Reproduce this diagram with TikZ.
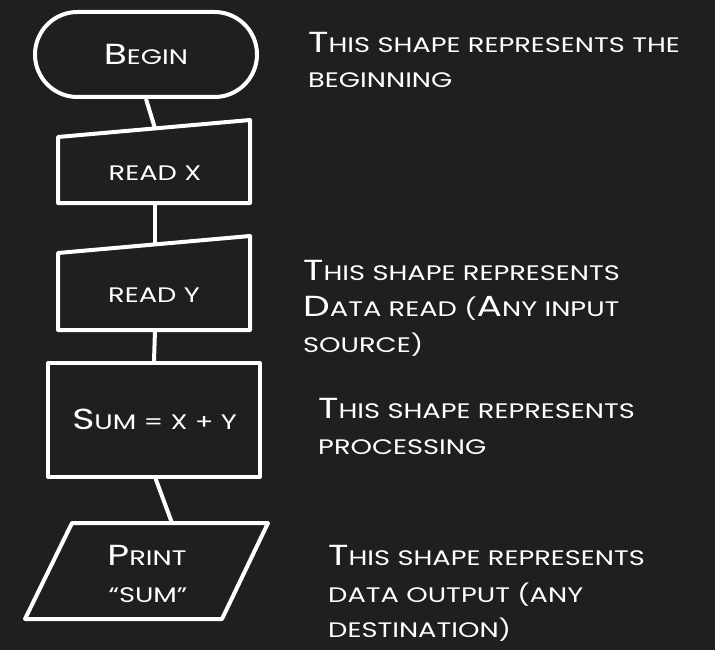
\documentclass[tikz,border=0pt]{standalone}
\usepackage{fontspec}
\usepackage{graphicx}
\setmainfont{Poppins}
\usetikzlibrary{shapes.misc}
\definecolor{board}{HTML}{1F1F1F}
\newcommand\bigc[1]{{\fontsize{29}{29}\selectfont #1}}
\newcommand\wide[1]{\scalebox{1.3}[1]{#1}}
\tikzset{
  shapeline/.style={draw=white, line width=4pt, line join=round},
  conn/.style={draw=white, line width=4pt},
  lbl/.style={text=white, font=\fontsize{21}{21}\selectfont, inner sep=0pt, anchor=base},
  note/.style={text=white, font=\fontsize{21}{21}\selectfont, inner sep=0pt, anchor=base west},
}
\begin{document}
\begin{tikzpicture}[x=1pt,y=-1pt]
\useasboundingbox (0,0) rectangle (715,650);
\fill[board] (0,0) rectangle (715,650);

% Begin
\node[shapeline, rounded rectangle, minimum width=222pt, minimum height=85pt, inner sep=0pt] (begin) at (146,54.5) {};
\node[lbl] (begintxt) at (146,65) {\wide{\bigc{B}EGIN}};

% Read X
\draw[shapeline] (58,137) -- (250,120) -- (250,203) -- (58,203) -- cycle;
\coordinate (rxTop) at (155,128.4);
\coordinate (rxBot) at (155,203);
\node[lbl] (rxtxt) at (155,180) {\wide{READ X}};

% Read Y
\draw[shapeline] (58,253) -- (250,236) -- (250,330) -- (58,330) -- cycle;
\coordinate (ryTop) at (155,244.4);
\coordinate (ryBot) at (155,330);
\node[lbl] (rytxt) at (154,302) {\wide{READ Y}};

% Sum
\node[shapeline, rectangle, minimum width=212pt, minimum height=114pt, inner sep=0pt] (sum) at (154,420) {};
\node[lbl] (sumtxt) at (154.5,429) {\wide{\bigc{S}UM = X + Y}};
\coordinate (sumBot) at (155,477);

% Print
\draw[shapeline] (72,523) -- (268,523) -- (222,619) -- (25,619) -- cycle;
\coordinate (prTop) at (172,523);
\node[lbl] (prtxt1) at (147,565) {\wide{\bigc{P}RINT}};
\node[lbl] (prtxt2) at (148,602) {\wide{“SUM”}};

% connectors
\draw[conn] (begin.south) -- (rxTop);
\draw[conn] (rxBot) -- (ryTop);
\draw[conn] (ryBot) -- (sum.north);
\draw[conn] (sumBot) -- (prTop);

% notes
\node[note] (n1a) at (308,53) {\wide{\bigc{T}HIS SHAPE REPRESENTS THE}};
\node[note] (n1b) at (308,88) {\wide{BEGINNING}};

\node[note] (n2a) at (303,280) {\wide{\bigc{T}HIS SHAPE REPRESENTS}};
\node[note] (n2b) at (303,316) {\wide{\bigc{D}ATA READ (\bigc{A}NY INPUT}};
\node[note] (n2c) at (303,352) {\wide{SOURCE)}};

\node[note] (n3a) at (318,418) {\wide{\bigc{T}HIS SHAPE REPRESENTS}};
\node[note] (n3b) at (318,454) {\wide{PROCESSING}};

\node[note] (n4a) at (328,565) {\wide{\bigc{T}HIS SHAPE REPRESENTS}};
\node[note] (n4b) at (328,602) {\wide{DATA OUTPUT (ANY}};
\node[note] (n4c) at (328,637) {\wide{DESTINATION)}};
\end{tikzpicture}
\end{document}
